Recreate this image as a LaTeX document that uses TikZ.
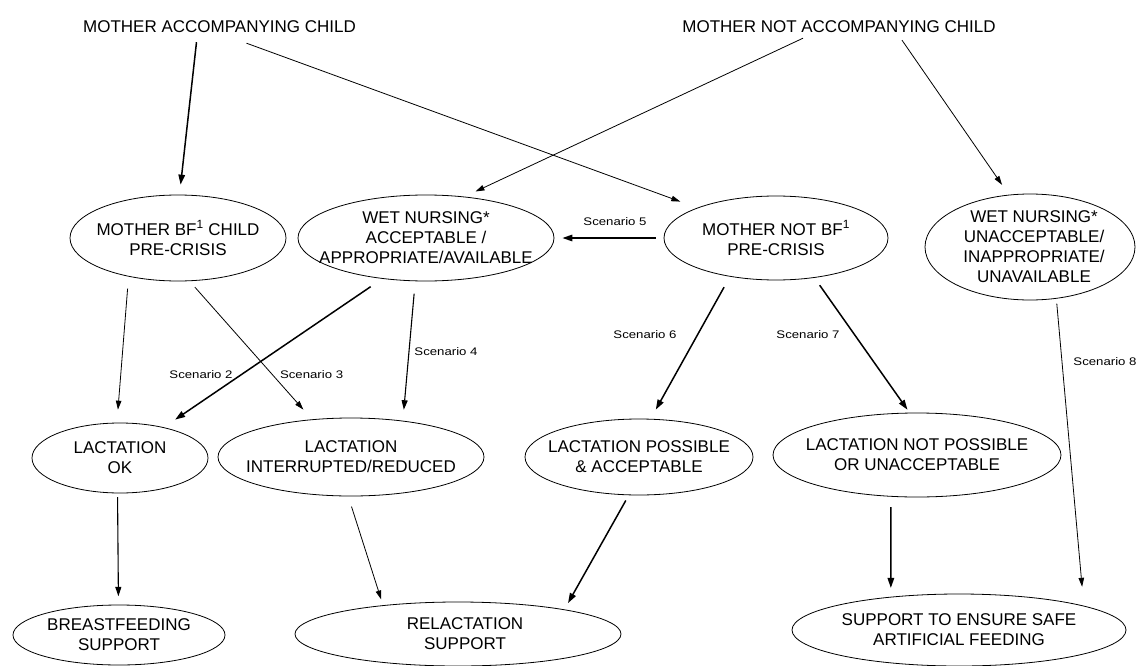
\documentclass[tikz,border=0pt]{standalone}
\usepackage{fontspec}
\setmainfont{Liberation Sans}
\newfontfamily\scenfont[FakeStretch=1.2]{Liberation Sans}
\usetikzlibrary{shapes.geometric,arrows.meta}
\begin{document}
\begin{tikzpicture}[x=1pt,y=-1pt,
  ell/.style={draw, ellipse, line width=0.8pt, inner sep=0pt},
  txt/.style={font=\fontsize{17}{20}\selectfont, align=center, inner sep=0pt, text=black},
  toptxt/.style={font=\fontsize{17}{20}\selectfont, inner sep=0pt, text height=12pt, text depth=0pt},
  scen/.style={font=\scenfont\fontsize{11}{13}\selectfont, inner sep=0pt},
  thinarr/.style={line width=0.8pt, -{Triangle[length=9pt,width=5.5pt]}},
  medarr/.style={line width=1.1pt, -{Triangle[length=9.5pt,width=6pt]}},
  thickarr/.style={line width=1.5pt, -{Triangle[length=10pt,width=6.5pt]}}
]
\path[use as bounding box] (0,0) rectangle (1137,666);

% top labels
\node[toptxt] (mac) at (219.5,27) {MOTHER ACCOMPANYING CHILD};
\node[toptxt] (mnac) at (839,27) {MOTHER NOT ACCOMPANYING CHILD};

% row 2
\node[ell, minimum width=216pt, minimum height=86pt,
  label={[txt]center:MOTHER BF\textsuperscript{1} CHILD\\PRE-CRISIS}] (mbf) at (178,238) {};
\node[ell, minimum width=256pt, minimum height=86pt,
  label={[txt]center:WET NURSING*\\ACCEPTABLE /\\APPROPRIATE/AVAILABLE}] (wna) at (426,238) {};
\node[ell, minimum width=224pt, minimum height=84pt,
  label={[txt]center:MOTHER NOT BF\textsuperscript{1}\\PRE-CRISIS}] (mnbf) at (776,238) {};
\node[ell, minimum width=210pt, minimum height=106pt,
  label={[txt,xshift=4pt]center:WET NURSING*\\UNACCEPTABLE/\\INAPPROPRIATE/\\UNAVAILABLE}] (wnu) at (1030,247) {};

% row 3
\node[ell, minimum width=176pt, minimum height=70pt,
  label={[txt]center:LACTATION\\OK}] (lok) at (120,458) {};
\node[ell, minimum width=266pt, minimum height=78pt,
  label={[txt]center:LACTATION\\INTERRUPTED/REDUCED}] (lir) at (351,457) {};
\node[ell, minimum width=228pt, minimum height=76pt,
  label={[txt]center:LACTATION POSSIBLE\\\& ACCEPTABLE}] (lpa) at (639,457) {};
\node[ell, minimum width=288pt, minimum height=84pt,
  label={[txt]center:LACTATION NOT POSSIBLE\\OR UNACCEPTABLE}] (lnp) at (917,455) {};

% row 4
\node[ell, minimum width=212pt, minimum height=60pt,
  label={[txt]center:BREASTFEEDING\\SUPPORT}] (bs) at (119,635) {};
\node[ell, minimum width=326pt, minimum height=64pt,
  label={[txt,xshift=7pt]center:RELACTATION\\SUPPORT}] (rs) at (458,634) {};
\node[ell, minimum width=334pt, minimum height=72pt,
  label={[txt]center:SUPPORT TO ENSURE SAFE\\ARTIFICIAL FEEDING}] (saf) at (959,630) {};

% scenario labels
\node[scen] (s2) at (201,375) {Scenario 2};
\node[scen] (s3) at (311.6,375) {Scenario 3};
\node[scen] (s4) at (446,351.7) {Scenario 4};
\node[scen] (s5) at (615,222) {Scenario 5};
\node[scen] (s6) at (645,335) {Scenario 6};
\node[scen] (s7) at (808,335) {Scenario 7};
\node[scen] (s8) at (1105,361.7) {Scenario 8};

% connectors
\draw[thickarr, shorten >=10pt] ([xshift=-23pt,yshift=-9pt]mac.south) -- (mbf.88);
\draw[thinarr, shorten >=18pt] ([xshift=27pt,yshift=-10pt]mac.south) -- (mnbf.159);
\draw[thinarr, shorten >=12pt] ([xshift=-36pt,yshift=-5pt]mnac.south) -- (wna.47);
\draw[thinarr, shorten >=12pt] ([xshift=63pt,yshift=-7pt]mnac.south) -- (wnu.112);
\draw[thickarr, shorten <=8pt, shorten >=8pt] (mnbf.180) -- (wna.0);
\draw[thinarr, shorten <=12pt, shorten >=13pt] (mbf.218.5) -- (lok.95);
\draw[thinarr, shorten <=8pt, shorten >=13pt] (mbf.285) -- (lir.136);
\draw[thickarr, shorten <=14pt, shorten >=13.6pt] (wna.223.6) -- (lok.35);
\draw[medarr, shorten <=12.5pt, shorten >=11pt] (wna.256) -- (lir.35);
\draw[thickarr, shorten <=12pt, shorten >=10.5pt] (mnbf.220.7) -- (lpa.73);
\draw[thickarr, shorten <=9pt, shorten >=3.6pt] (mnbf.314) -- (lnp.100);
\draw[thinarr, shorten <=5pt, shorten >=19pt] (wnu.297) -- (saf.11);
\draw[medarr, shorten <=3.7pt, shorten >=8.3pt] (lok.266.7) -- (bs.91.9);
\draw[thinarr, shorten <=10.7pt, shorten >=6pt] (lir.266.6) -- (rs.159.6);
\draw[thickarr, shorten <=6pt, shorten >=7.3pt] (lpa.255.5) -- (rs.13);
\draw[thickarr, shorten <=10.4pt, shorten >=8.8pt] (lnp.238) -- (saf.154.1);
\end{tikzpicture}
\end{document}
